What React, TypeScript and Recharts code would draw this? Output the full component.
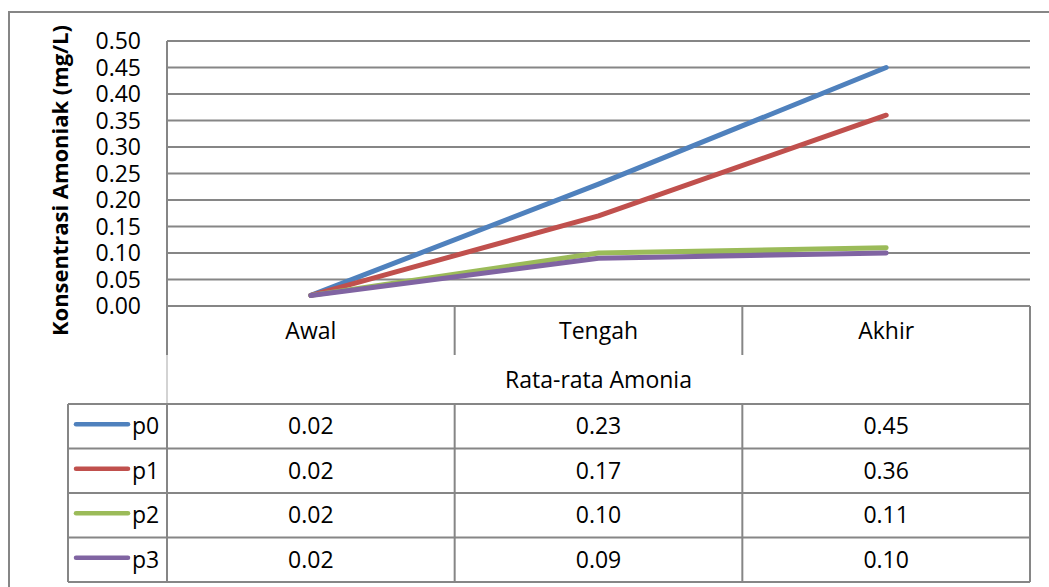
import React from 'react';
import { LineChart, Line, XAxis, YAxis, CartesianGrid } from 'recharts';

// Sampling stages and mean ammonia concentration (mg/L) per treatment
const categories = ['Awal', 'Tengah', 'Akhir'];
const p0 = [0.02, 0.23, 0.45];
const p1 = [0.02, 0.17, 0.36];
const p2 = [0.02, 0.1, 0.11];
const p3 = [0.02, 0.09, 0.1];

const seriesNames = ['p0', 'p1', 'p2', 'p3'];
const seriesValues = [p0, p1, p2, p3];
const seriesColors = ['#4F81BD', '#C0504D', '#9BBB59', '#8064A2'];

const yTicks = [0, 0.05, 0.1, 0.15, 0.2, 0.25, 0.3, 0.35, 0.4, 0.45, 0.5];

const yTitle = 'Konsentrasi Amoniak (mg/L)';
const xTitle = 'Rata-rata Amonia';

const data = categories.map((cat, i) => {
  const row: Record<string, string | number> = { cat };
  seriesNames.forEach((name, s) => {
    row[name] = seriesValues[s][i];
  });
  return row;
});

const W = 1049;
const H = 587;
const FONT = '"Open Sans", "Noto Sans", sans-serif';
const GRID = '#868686';

// Frame of the plot area and the data table below it
const plotLeft = 167;
const plotRight = 1030;
const plotTop = 41;
const plotBottom = 306;
const catRowBottom = 355;
const tableTop = 404;
const rowH = 44.5;
const legendLeft = 68;
const colW = (plotRight - plotLeft) / categories.length;

function DataTable() {
  const colEdges = categories.map((_, i) => plotLeft + i * colW).concat(plotRight);
  const tableBottom = tableTop + rowH * seriesNames.length;
  return (
    <svg
      width={W}
      height={H}
      style={{ position: 'absolute', left: 0, top: 0, pointerEvents: 'none' }}
      fontFamily={FONT}
    >
      {/* outer chart frame */}
      <rect x={9} y={12} width={W + 20} height={H + 20} fill="none" stroke={GRID} strokeWidth={2} />

      {/* category row dividers */}
      {colEdges.map((x, i) => (
        <line key={`cv${i}`} x1={x} x2={x} y1={plotBottom} y2={catRowBottom} stroke={GRID} strokeWidth={2} />
      ))}
      {/* axis title row sides */}
      <line x1={plotLeft} x2={plotLeft} y1={catRowBottom} y2={tableTop} stroke="#c4c4c4" strokeWidth={1.5} />
      <line x1={plotRight} x2={plotRight} y1={catRowBottom} y2={tableTop} stroke={GRID} strokeWidth={2} />
      <text x={(plotLeft + plotRight) / 2} y={388} textAnchor="middle" fontSize={23} fill="#000">
        {xTitle}
      </text>

      {/* series rows */}
      {seriesNames.map((_, k) => (
        <line
          key={`h${k}`}
          x1={legendLeft}
          x2={plotRight}
          y1={tableTop + k * rowH}
          y2={tableTop + k * rowH}
          stroke={GRID}
          strokeWidth={2}
        />
      ))}
      <line x1={legendLeft} x2={plotRight} y1={tableBottom} y2={tableBottom} stroke={GRID} strokeWidth={2} />
      {[legendLeft, ...colEdges].map((x, i) => (
        <line key={`tv${i}`} x1={x} x2={x} y1={tableTop} y2={tableBottom} stroke={GRID} strokeWidth={2} />
      ))}

      {seriesNames.map((name, k) => {
        const cy = tableTop + k * rowH + rowH / 2;
        return (
          <g key={name}>
            <line
              x1={76}
              x2={128}
              y1={cy - 2}
              y2={cy - 2}
              stroke={seriesColors[k]}
              strokeWidth={4.5}
              strokeLinecap="round"
            />
            <text x={132} y={cy + 8} fontSize={23} fill="#000">
              {name}
            </text>
            {seriesValues[k].map((v, i) => (
              <text
                key={i}
                x={plotLeft + (i + 0.5) * colW}
                y={cy + 8}
                textAnchor="middle"
                fontSize={23}
                fill="#000"
              >
                {v.toFixed(2)}
              </text>
            ))}
          </g>
        );
      })}

      {/* value axis title */}
      <text
        x={68}
        y={180.5}
        transform="rotate(-90, 68, 180.5)"
        textAnchor="middle"
        fontSize={22}
        fontWeight="bold"
        fill="#000"
        textLength={311}
        lengthAdjust="spacing"
      >
        {yTitle}
      </text>
    </svg>
  );
}

export default function App() {
  const yAxisWidth = 60;
  const xAxisHeight = catRowBottom - plotBottom;
  return (
    <div
      style={{
        position: 'absolute',
        left: 0,
        top: 0,
        width: W,
        height: H,
        background: '#fff',
        fontFamily: FONT,
        overflow: 'hidden',
      }}
    >
      <LineChart
        width={W}
        height={H}
        data={data}
        margin={{
          top: plotTop,
          right: W - plotRight,
          bottom: H - plotBottom - xAxisHeight,
          left: plotLeft - yAxisWidth,
        }}
      >
        <CartesianGrid vertical={false} stroke={GRID} strokeWidth={2} />
        <XAxis
          dataKey="cat"
          type="category"
          interval={0}
          height={xAxisHeight}
          padding={{ left: colW / 2, right: colW / 2 }}
          axisLine={{ stroke: GRID, strokeWidth: 2 }}
          tickLine={false}
          tickSize={0}
          tickMargin={17}
          tick={{ fill: '#000', fontSize: 23, fontFamily: FONT }}
        />
        <YAxis
          type="number"
          domain={[0, 0.5]}
          ticks={yTicks}
          interval={0}
          width={yAxisWidth}
          axisLine={{ stroke: GRID, strokeWidth: 2 }}
          tickLine={false}
          tickSize={0}
          tickMargin={26}
          tick={{ fill: '#000', fontSize: 23, fontFamily: FONT }}
          tickFormatter={(v: number) => v.toFixed(2)}
        />
        {seriesNames.map((name, k) => (
          <Line
            key={name}
            type="linear"
            dataKey={name}
            stroke={seriesColors[k]}
            strokeWidth={5}
            strokeLinecap="round"
            strokeLinejoin="round"
            dot={false}
            activeDot={false}
            isAnimationActive={false}
          />
        ))}
      </LineChart>
      <DataTable />
    </div>
  );
}
